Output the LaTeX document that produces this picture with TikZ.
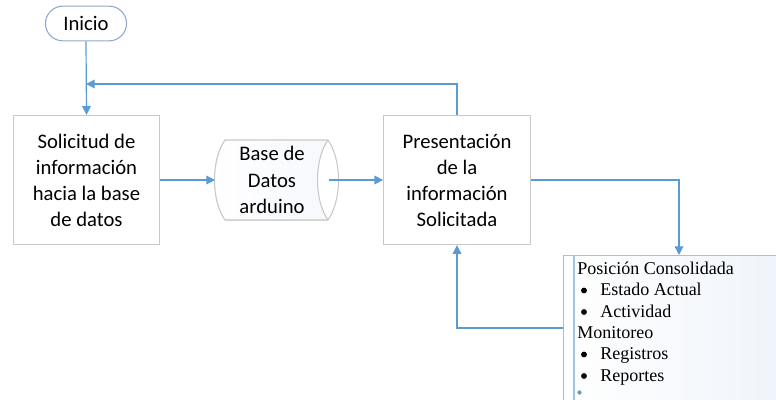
\documentclass[tikz,border=0pt]{standalone}
\usepackage{fontspec}
\setmainfont{Carlito}
\newfontfamily\serifb{Liberation Serif}
\usetikzlibrary{shapes.geometric,shapes.misc,arrows.meta}
\definecolor{lineblue}{HTML}{5B9BD5}
\definecolor{boxgray}{HTML}{C8C8C8}
\definecolor{termblue}{HTML}{8FAAC8}
\definecolor{infoblue}{HTML}{9DC3E6}
\definecolor{infofill}{HTML}{EEF3FA}
\definecolor{dbfill}{HTML}{F6F8FC}
\tikzset{
  conn/.style={draw=lineblue, line width=0.9pt, -{Triangle[length=6.5pt,width=6.5pt]}},
  procbox/.style={draw=boxgray, fill=white, line width=0.8pt, minimum width=110pt, minimum height=97pt, align=center, font=\fontsize{15.5}{19.5}\selectfont},
  termbox/.style={rounded rectangle, draw=termblue, fill=white, line width=0.8pt, minimum width=67.5pt, minimum height=26pt, font=\fontsize{15.5}{19.5}\selectfont},
  dbtext/.style={inner sep=0pt, align=center, font=\fontsize{15.5}{20}\selectfont},
  dbline/.style={draw=boxgray, line width=0.8pt},
  bul/.style={anchor=base west, inner sep=0pt, font=\serifb\fontsize{13.5}{16}\selectfont},
}
\begin{document}
\begin{tikzpicture}[x=0.75pt,y=-0.75pt]
\useasboundingbox (0,0) rectangle (776,400);
\clip (0,0) rectangle (776,400);
% nodes
\node[termbox] (inicio) at (86,23.5) {Inicio};
\node[procbox] (sol) at (86.5,180) {Solicitud de\\información\\hacia la base\\de datos};
\node[procbox] (pres) at (457,180) {Presentación\\de la\\información\\Solicitada};
% database cylinder
\fill[left color=white, right color=dbfill] (225,140) .. controls (211,160) and (211,200) .. (225,220) -- (328,220) .. controls (314,200) and (314,160) .. (328,140) -- cycle;
\fill[white] (328,140) .. controls (342,160) and (342,200) .. (328,220) .. controls (314,200) and (314,160) .. (328,140) -- cycle;
\draw[dbline] (225,140) .. controls (211,160) and (211,200) .. (225,220) -- (328,220) .. controls (342,200) and (342,160) .. (328,140) -- cycle;
\draw[dbline] (328,140) .. controls (314,160) and (314,200) .. (328,220);
\node[dbtext] (db) at (272,180) {Base de\\Datos\\arduino};
\coordinate (dbin) at (215,180);
\coordinate (dbout) at (329,180);
% info box
\node[draw=infoblue, line width=1pt, left color=white, right color=infofill, minimum width=180pt, minimum height=120pt, anchor=north west, inner sep=0pt] (info) at (563,255) {};
\coordinate (infotop) at (679,255);
\coordinate (infoleft) at (563,328);
\draw[draw=infoblue, line width=1pt] (574,255) -- (574,410);
\node[bul] (t1) at (577,274) {Posición Consolidada};
\node[bul] (t2) at (600,295.5) {Estado Actual};
\node[bul] (t3) at (600,317) {Actividad};
\node[bul] (t4) at (577,338) {Monitoreo};
\node[bul] (t5) at (600,359.5) {Registros};
\node[bul] (t6) at (600,381) {Reportes};
\foreach \yy in {290.5,312,354.5,376}
  \fill[black] (584,\yy) circle (2.2pt);
\fill[lineblue] (579.5,392.5) circle (1.6pt);
% connectors
\coordinate (join) at (86,84);
\draw[conn] (inicio.south) -- (sol.north);
\draw[conn] (pres.north) |- (join);
\draw[conn] (sol.east) -- (dbin);
\draw[conn] (dbout) -- (pres.west);
\draw[conn] (pres.east) -| (infotop);
\draw[conn] (infoleft) -| (pres.south);
\end{tikzpicture}
\end{document}
